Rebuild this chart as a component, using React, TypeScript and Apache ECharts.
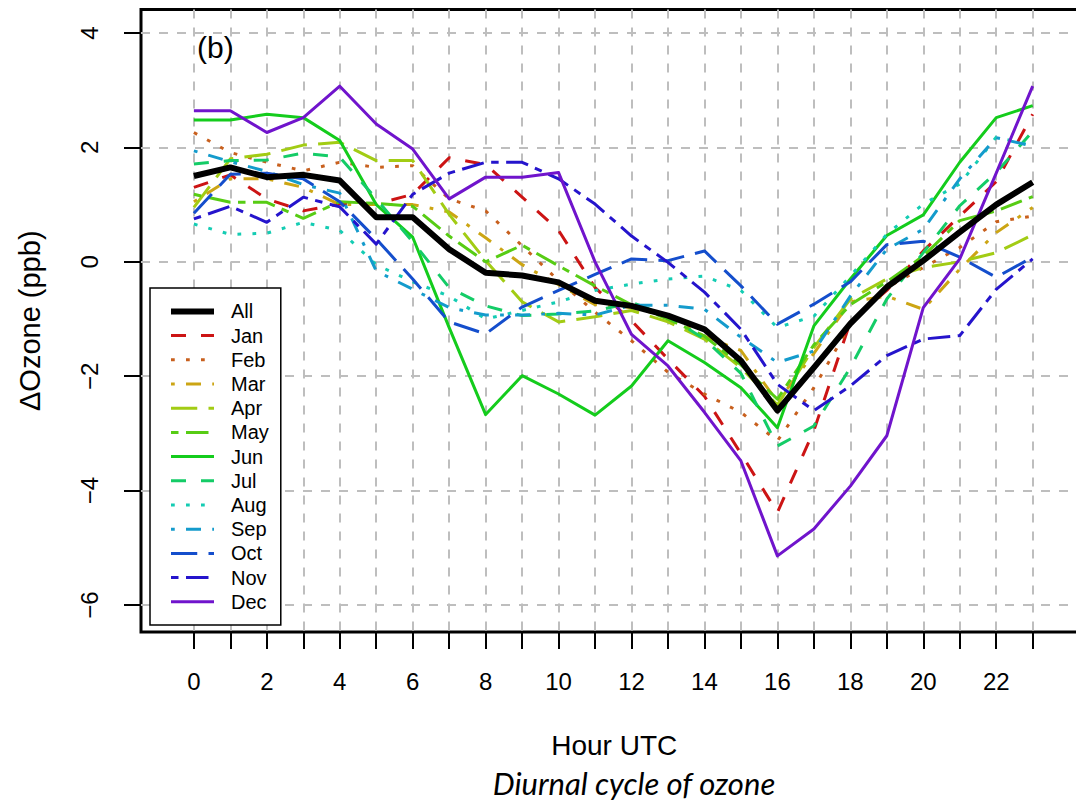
import React, { useEffect, useRef } from 'react';
import * as echarts from 'echarts';

// ---- data ----
const hours = [0, 1, 2, 3, 4, 5, 6, 7, 8, 9, 10, 11, 12, 13, 14, 15, 16, 17, 18, 19, 20, 21, 22, 23];
const xLabelHours = [0, 2, 4, 6, 8, 10, 12, 14, 16, 18, 20, 22];
const yTickValues = [-6, -4, -2, 0, 2, 4];
const seriesNames = ['All', 'Jan', 'Feb', 'Mar', 'Apr', 'May', 'Jun', 'Jul', 'Aug', 'Sep', 'Oct', 'Nov', 'Dec'];

const allValues = [1.50, 1.65, 1.48, 1.52, 1.42, 0.78, 0.78, 0.22, -0.19, -0.24, -0.36, -0.68, -0.77, -0.94, -1.18, -1.73, -2.60, -1.85, -1.08, -0.44, 0.02, 0.52, 1.00, 1.39];
const janValues = [1.30, 1.52, 1.10, 0.89, 1.01, 1.01, 1.18, 1.82, 1.70, 1.13, 0.55, -0.45, -1.03, -1.70, -2.35, -3.35, -4.38, -2.95, -1.05, -0.50, 0.19, 0.80, 1.40, 2.58];
const febValues = [2.26, 1.91, 1.74, 1.59, 1.74, 1.65, 1.68, 1.10, 0.89, 0.28, -0.33, -0.88, -1.38, -1.93, -2.31, -2.63, -3.13, -2.20, -1.10, -0.45, -0.10, 0.25, 0.70, 0.80];
const marValues = [1.05, 1.45, 1.45, 1.30, 1.00, 1.00, 1.00, 0.87, 0.42, -0.05, -0.40, -0.75, -0.80, -0.95, -1.30, -1.55, -2.45, -1.60, -0.70, -0.60, -0.83, -0.13, 0.51, 0.95];
const aprValues = [0.95, 1.80, 1.88, 2.04, 2.09, 1.77, 1.77, 0.83, 0.02, -0.70, -1.05, -0.96, -0.85, -1.05, -1.35, -1.85, -2.50, -1.50, -0.65, -0.30, -0.10, 0.00, 0.16, 0.47];
const mayValues = [1.18, 1.04, 1.04, 0.76, 1.05, 1.02, 0.97, 0.45, 0.00, 0.29, -0.07, -0.42, -0.75, -1.00, -1.30, -1.80, -2.40, -1.45, -0.75, -0.35, 0.10, 0.72, 0.89, 1.14];
const junValues = [2.48, 2.48, 2.58, 2.52, 2.12, 1.00, 0.43, -1.15, -2.67, -1.99, -2.31, -2.68, -2.17, -1.38, -1.76, -2.20, -2.90, -1.12, -0.30, 0.46, 0.82, 1.74, 2.52, 2.73];
const julValues = [1.71, 1.77, 1.78, 1.90, 1.83, 1.10, 0.35, -0.45, -0.77, -0.94, -0.91, -0.86, -0.71, -0.95, -1.35, -1.95, -3.22, -2.87, -1.85, -0.65, 0.16, 0.98, 1.56, 2.28];
const augValues = [0.66, 0.48, 0.50, 0.69, 0.55, -0.05, -0.35, -0.60, -1.00, -0.85, -0.70, -0.50, -0.39, -0.30, -0.25, -0.50, -1.15, -0.95, -0.25, 0.48, 1.01, 1.36, 2.18, 2.03];
const sepValues = [1.94, 1.75, 1.58, 1.35, 1.20, -0.16, -0.48, -0.80, -0.93, -0.93, -0.90, -0.93, -0.76, -0.76, -0.83, -1.32, -1.76, -1.56, -0.60, 0.22, 0.57, 1.45, 2.17, 2.02];
const octValues = [0.85, 1.53, 1.55, 1.45, 1.05, 0.40, -0.30, -1.05, -1.26, -0.79, -0.50, -0.22, 0.05, 0.02, 0.19, -0.42, -1.09, -0.74, -0.35, 0.30, 0.36, 0.08, -0.27, 0.08];
const novValues = [0.75, 0.97, 0.69, 1.13, 0.96, 0.31, 1.18, 1.55, 1.74, 1.74, 1.45, 1.01, 0.45, -0.01, -0.53, -1.18, -2.14, -2.60, -2.17, -1.64, -1.35, -1.29, -0.48, 0.05];
const decValues = [2.64, 2.64, 2.26, 2.52, 3.07, 2.41, 1.97, 1.10, 1.48, 1.48, 1.56, 0.00, -1.27, -1.82, -2.63, -3.48, -5.14, -4.67, -3.92, -3.04, -0.80, 0.05, 1.55, 3.07];

const seriesValues = [allValues, janValues, febValues, marValues, aprValues, mayValues, junValues, julValues, augValues, sepValues, octValues, novValues, decValues];

// ---- styles ----
const seriesColors = ['#000000', '#CC1414', '#C8601E', '#CCA514', '#A2CC14', '#57CC14', '#14CC1C', '#14CC67', '#14CCB3', '#149BCC', '#144ECC', '#2514CC', '#7014CC'];
const U = 3.75;
const dashPatterns: Record<string, any> = {
  solid: 'solid',
  dashed: [4 * U, 4 * U],
  dotted: [U, 3 * U],
  dotdash: [U, 3 * U, 4 * U, 3 * U],
  longdash: [7 * U, 3 * U],
  twodash: [2 * U, 2 * U, 6 * U, 2 * U],
};
const seriesLty = ['solid', 'dashed', 'dotted', 'dotdash', 'longdash', 'twodash', 'solid', 'dashed', 'dotted', 'dotdash', 'longdash', 'twodash', 'solid'];

const FONT = 'Liberation Sans, Arial, Helvetica, sans-serif';

const fmtMinus = (v: number) => (v < 0 ? '\u2212' + String(Math.abs(v)) : String(v));

export default function App() {
  const ref = useRef<HTMLDivElement>(null);

  useEffect(() => {
    if (!ref.current) return;
    const chart = echarts.init(ref.current, undefined, { renderer: 'svg' });

    const series = seriesNames.map((name, i) => ({
      name,
      type: 'line',
      data: hours.map((h, j) => [h, seriesValues[i][j]]),
      symbol: 'none',
      showSymbol: false,
      z: i === 0 ? 4 : 3,
      lineStyle: {
        color: seriesColors[i],
        width: i === 0 ? 6 : 3,
        type: dashPatterns[seriesLty[i]],
        cap: 'butt',
        join: 'round',
      },
      itemStyle: { color: seriesColors[i] },
      emphasis: { disabled: true },
    }));

    const gridLine = { show: true, lineStyle: { color: '#BEBEBE', width: 2, type: [9, 9] } };

    chart.setOption({
      animation: false,
      backgroundColor: '#ffffff',
      textStyle: { fontFamily: FONT },
      grid: {
        left: 141,
        top: 9.5,
        width: 946.4,
        height: 622.5,
        show: true,
        borderColor: '#000',
        borderWidth: 3,
        backgroundColor: 'transparent',
        containLabel: false,
      },
      xAxis: {
        type: 'value',
        min: -1.45,
        max: 24.5,
        name: 'Hour UTC',
        nameLocation: 'middle',
        nameGap: 99,
        nameTextStyle: { fontSize: 28, color: '#000', fontFamily: FONT },
        axisLine: { show: false, onZero: false },
        axisTick: { show: true, inside: false, length: 17, customValues: hours, lineStyle: { color: '#000', width: 2 } },
        axisLabel: { show: true, customValues: xLabelHours, fontSize: 24, color: '#000', margin: 37, fontFamily: FONT },
        splitLine: gridLine,
      },
      yAxis: {
        type: 'value',
        min: -6.47,
        max: 4.41,
        name: '\u0394Ozone (ppb)',
        nameLocation: 'middle',
        nameRotate: 90,
        nameGap: 97,
        nameTextStyle: { fontSize: 29, color: '#000', fontFamily: FONT },
        axisLine: { show: false, onZero: false },
        axisTick: { show: true, inside: false, length: 17, customValues: yTickValues, lineStyle: { color: '#000', width: 2 } },
        axisLabel: { show: true, customValues: yTickValues, rotate: 90, fontSize: 24, color: '#000', margin: 40, fontFamily: FONT, formatter: fmtMinus },
        splitLine: gridLine,
      },
      legend: {
        orient: 'vertical',
        left: 150,
        top: 288,
        padding: [13.4, 12, 13.3, 18],
        itemWidth: 43,
        itemHeight: 14,
        itemGap: 4.2,
        backgroundColor: '#ffffff',
        borderColor: '#000',
        borderWidth: 1.5,
        borderRadius: 0,
        selectedMode: false,
        itemStyle: { opacity: 0 },
        lineStyle: { width: 'inherit' },
        textStyle: { fontSize: 20, color: '#000', fontFamily: FONT, lineHeight: 20, padding: [0, 0, 0, 12] },
        data: seriesNames,
      },
      graphic: [
        {
          type: 'text',
          left: 197,
          top: 32,
          z: 10,
          style: { text: '(b)', fontSize: 30, fontFamily: FONT, fill: '#000' },
        },
        {
          type: 'text',
          x: 634,
          y: 783,
          z: 10,
          style: {
            text: 'Diurnal cycle of ozone',
            fontSize: 31,
            fontStyle: 'italic',
            fontFamily: 'Lato, Open Sans, sans-serif',
            fill: '#000',
            align: 'center',
            verticalAlign: 'middle',
          },
        },
      ],
      series,
    });

    return () => {
      chart.dispose();
    };
  }, []);

  return (
    <div style={{ position: 'fixed', left: 0, top: 0, width: 1076, height: 801, overflow: 'hidden', background: '#fff' }}>
      <div ref={ref} style={{ position: 'absolute', left: 0, top: 0, width: 1100, height: 801 }} />
    </div>
  );
}
